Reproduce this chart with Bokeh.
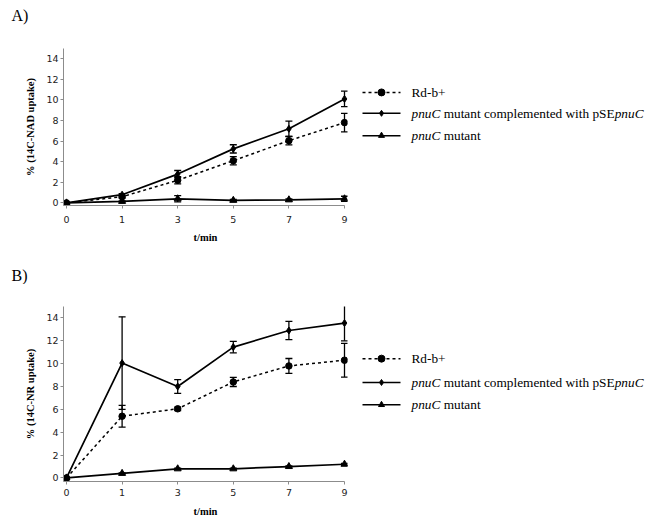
from bokeh.plotting import figure
from bokeh.models import Range1d, FixedTicker, Whisker, ColumnDataSource
from bokeh.layouts import row, column
from bokeh.embed import file_html
from bokeh.resources import INLINE
from bokeh.core.properties import value

# ---------------- data ----------------
time_labels = ["0", "1", "3", "5", "7", "9"]
y_ticks = [0, 2, 4, 6, 8, 10, 12, 14]

# Panel A: 14C-NAD uptake
a_rd = [0, 0.6, 2.2, 4.1, 6.05, 7.8]
a_rd_err = [0, 0.12, 0.35, 0.4, 0.42, 0.9]
a_comp = [0, 0.8, 2.8, 5.25, 7.2, 10.1]
a_comp_err = [0, 0.1, 0.35, 0.4, 0.75, 0.75]
a_mut = [0, 0.15, 0.4, 0.25, 0.3, 0.4]
a_mut_err = [0, 0.05, 0.3, 0.1, 0.1, 0.25]

# Panel B: 14C-NR uptake
b_rd = [0, 5.4, 6.05, 8.4, 9.8, 10.3]
b_rd_err = [0, 0.95, 0.15, 0.4, 0.65, 1.47]
b_comp = [0, 10.05, 8.0, 11.45, 12.9, 13.55]
b_comp_err = [0, 4.05, 0.6, 0.5, 0.8, 1.55]
b_mut = [0, 0.4, 0.8, 0.8, 1.0, 1.2]
b_mut_err = [0, 0.05, 0.05, 0.05, 0.05, 0.08]

# legend texts: list of (text, italic, space_after) segments per entry
legend_rd = [("Rd-b+", False, False)]
legend_comp = [("pnuC", True, True), ("mutant complemented with pSE", False, False), ("pnuC", True, False)]
legend_mut = [("pnuC", True, True), ("mutant", False, False)]

AXIS_GREY = "#8c8c8c"
SERIF = "Liberation Serif"
SANS = "DejaVu Sans"

# approximate Times em widths of the legend segments (for placing the pieces)
EM = {"pnuC": 2.167, "mutant complemented with pSE": 12.861, "mutant": 2.778, "Rd-b+": 2.35}
SPACE_EM = 0.25

W_CHART = 358
W_LEG = 293
W_ALL = W_CHART + W_LEG


def make_tag(h, tag, ty):
    t = figure(width=W_ALL, height=h, output_backend="svg", toolbar_location=None,
               x_range=Range1d(0, W_ALL), y_range=Range1d(h, 0),
               x_axis_type=None, y_axis_type=None, min_border=0)
    t.outline_line_color = None
    t.grid.visible = False
    t.text([11], [ty], text=[tag], text_font=value(SERIF), text_font_size="16px",
           text_baseline="middle", text_color="black")
    return t


def make_chart(h, b_top, b_bottom, y_start, ylab, rd, rd_e, comp, comp_e, mut, mut_e,
               lab_stand, title_stand):
    xs = list(range(len(time_labels)))
    pad = 0.054
    p = figure(width=W_CHART, height=h, output_backend="svg", toolbar_location=None,
               x_range=Range1d(-pad, len(xs) - 1 + pad), y_range=Range1d(y_start, 15),
               min_border_left=63, min_border_right=11, min_border_top=b_top,
               min_border_bottom=b_bottom)
    p.outline_line_color = None
    p.grid.visible = False
    p.background_fill_color = "white"

    for ax in (p.xaxis[0], p.yaxis[0]):
        ax.axis_line_color = AXIS_GREY
        ax.major_tick_line_color = AXIS_GREY
        ax.minor_tick_line_color = None
        ax.major_tick_in = 0
        ax.major_tick_out = 3
        ax.major_label_text_font = SANS
        ax.major_label_text_font_size = "9.5px"
        ax.major_label_text_color = "#222222"
        ax.axis_label_text_font = SERIF
        ax.axis_label_text_font_style = "bold"
        ax.axis_label_text_font_size = "10.5px"
        ax.axis_label_text_color = "black"

    p.xaxis.ticker = FixedTicker(ticks=xs)
    p.xaxis.major_label_overrides = {i: t for i, t in enumerate(time_labels)}
    p.xaxis.bounds = (-pad, len(xs) - 1)
    p.xaxis.axis_label = "t/min"
    p.xaxis.major_label_standoff = lab_stand
    p.xaxis.axis_label_standoff = title_stand

    p.yaxis.ticker = FixedTicker(ticks=y_ticks)
    p.yaxis.bounds = (y_start, 15)
    p.yaxis.axis_label = ylab
    p.yaxis.major_label_standoff = 2
    p.yaxis.axis_label_standoff = 7

    # error bars
    for vals, errs in ((rd, rd_e), (comp, comp_e), (mut, mut_e)):
        idx = [i for i, e in enumerate(errs) if e > 0]
        src = ColumnDataSource(dict(
            x=[xs[i] for i in idx],
            lo=[vals[i] - errs[i] for i in idx],
            hi=[vals[i] + errs[i] for i in idx]))
        w = Whisker(source=src, base="x", upper="hi", lower="lo",
                    line_color="black", line_width=1.3)
        for head in (w.upper_head, w.lower_head):
            head.size = 7
            head.line_width = 1.3
            head.line_color = "black"
        p.add_layout(w)

    p.line(xs, mut, line_color="black", line_width=1.7)
    p.scatter(xs, mut, marker="triangle", size=7, color="black")
    p.line(xs, rd, line_color="black", line_width=1.5, line_dash="3 3")
    p.scatter(xs, rd, marker="circle", size=6.5, color="black")
    p.line(xs, comp, line_color="black", line_width=1.7)
    p.scatter(xs, comp, marker="diamond", size=7, color="black")
    return p


def make_legend(h, rows_y):
    q = figure(width=W_LEG, height=h, output_backend="svg", toolbar_location=None,
               x_range=Range1d(0, W_LEG), y_range=Range1d(h, 0),
               x_axis_type=None, y_axis_type=None, min_border=0)
    q.outline_line_color = None
    q.grid.visible = False
    entries = [(legend_rd, "3 3", "circle", 7), (legend_comp, "solid", "diamond", 6),
               (legend_mut, "solid", "triangle", 6)]
    fs = 13.3
    for (segs, dash, mk, ms), y in zip(entries, rows_y):
        q.line([4, 42], [y, y], line_color="black", line_width=1.5, line_dash=dash)
        q.scatter([23], [y], marker=mk, size=ms, color="black")
        x = 53
        for txt, it, sp in segs:
            q.text([x], [y], text=[txt], text_font=value(SERIF),
                   text_font_style="italic" if it else "normal",
                   text_font_size=f"{fs}px", text_baseline="middle", text_color="black")
            x += (EM[txt] + (SPACE_EM if sp else 0)) * fs
    return q


ta = make_tag(30, "A)", 15)
pa = make_chart(218, 18, 43, -0.25, "% (14C-NAD uptake)", a_rd, a_rd_err, a_comp, a_comp_err,
                a_mut, a_mut_err, 7, 6)
la = make_legend(218, [61, 90, 121])
tb = make_tag(36, "B)", 27)
pb = make_chart(235, 22, 38, -0.31, "% (14C-NR uptake)", b_rd, b_rd_err, b_comp, b_comp_err,
                b_mut, b_mut_err, 4, 7)
lb = make_legend(235, [70, 102, 132])

layout = column(ta, row(pa, la), tb, row(pb, lb))
open("out.html", "w").write(file_html(layout, INLINE))
